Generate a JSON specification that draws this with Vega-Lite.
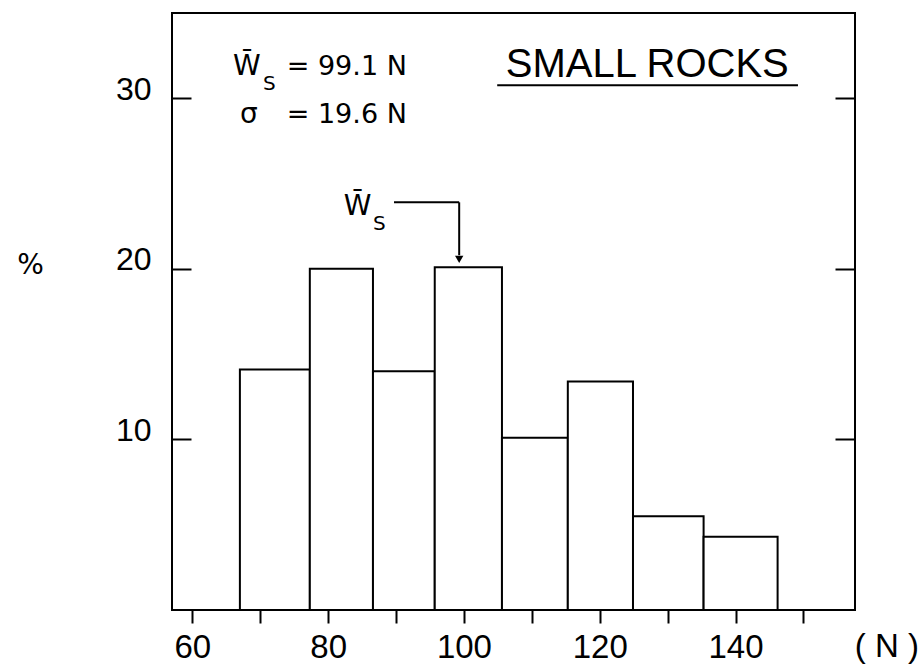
{
  "$schema": "https://vega.github.io/schema/vega-lite/v6.json",
  "width": 683,
  "height": 597,
  "autosize": {"type": "none"},
  "padding": {"left": 172, "top": 13, "right": 64, "bottom": 56},
  "background": "white",
  "config": {
    "view": {"stroke": "#000", "strokeWidth": 2},
    "font": "Liberation Sans",
    "axis": {"domain": false, "grid": false, "tickColor": "#000", "labelColor": "#000", "tickWidth": 2, "labelFont": "Liberation Sans"}
  },
  "datasets": {
    "bars": [
      {"x0": 67.0, "x1": 77.3, "pct": 14.1},
      {"x0": 77.3, "x1": 86.6, "pct": 20.0},
      {"x0": 86.6, "x1": 95.7, "pct": 14.0},
      {"x0": 95.7, "x1": 105.6, "pct": 20.1},
      {"x0": 105.6, "x1": 115.3, "pct": 10.1},
      {"x0": 115.3, "x1": 124.9, "pct": 13.4},
      {"x0": 124.9, "x1": 135.3, "pct": 5.5},
      {"x0": 135.3, "x1": 146.2, "pct": 4.3}
    ],
    "rules": [
      {"x": 89.7, "x2": 99.3, "y": 23.9, "y2": 23.9},
      {"x": 99.3, "x2": 99.3, "y": 23.9, "y2": 20.8},
      {"x": 104.9, "x2": 149.2, "y": 30.77, "y2": 30.77}
    ],
    "arrowhead": [{"x": 99.3, "y": 20.55}],
    "mid": [
      {"x": 73.9, "y": 31.36, "t": "= 99.1 N"},
      {"x": 73.9, "y": 28.55, "t": "= 19.6 N"}
    ],
    "sym": [
      {"x": 66.0, "y": 31.36, "t": "W\u0304"},
      {"x": 67.0, "y": 28.55, "t": "σ"},
      {"x": 82.3, "y": 23.15, "t": "W\u0304"},
      {"x": 34.2, "y": 19.7, "t": "%"}
    ],
    "subs": [
      {"x": 70.4, "y": 30.5, "t": "S"},
      {"x": 86.6, "y": 22.3, "t": "S"}
    ],
    "title": [{"x": 127.0, "y": 31.24, "t": "SMALL ROCKS"}],
    "unit": [{"x": 162.3, "y": -2.75, "t": "( N )"}]
  },
  "resolve": {"axis": {"y": "independent"}},
  "layer": [
    {
      "data": {"name": "bars"},
      "mark": {"type": "rect", "fill": "white", "stroke": "black", "strokeWidth": 2},
      "encoding": {
        "x": {
          "field": "x0", "type": "quantitative", "title": null,
          "scale": {"domain": [57, 157.6], "nice": false, "zero": false},
          "axis": {
            "orient": "bottom",
            "values": [60, 70, 80, 90, 100, 110, 120, 130, 140, 150],
            "tickSize": 13,
            "labelFontSize": 33,
            "labelPadding": 8,
            "labelExpr": "datum.value % 20 == 0 && datum.value <= 140 ? datum.label : ''"
          }
        },
        "x2": {"field": "x1"},
        "y": {
          "field": "pct", "type": "quantitative", "title": null,
          "scale": {"domain": [0, 35], "nice": false},
          "axis": {"orient": "left", "values": [10, 20, 30], "tickSize": -19, "labelPadding": 40, "labelFontSize": 32, "labelOffset": -9}
        },
        "y2": {"datum": 0}
      }
    },
    {
      "data": {"name": "rules"},
      "mark": {"type": "rule", "stroke": "black", "strokeWidth": 2},
      "encoding": {
        "x": {"field": "x", "type": "quantitative"},
        "x2": {"field": "x2"},
        "y": {"field": "y", "type": "quantitative", "title": null, "axis": {"orient": "right", "values": [10, 20, 30], "tickSize": -20, "labels": false}},
        "y2": {"field": "y2"}
      }
    },
    {
      "data": {"name": "arrowhead"},
      "mark": {"type": "point", "shape": "triangle-down", "filled": true, "color": "black", "size": 70, "opacity": 1},
      "encoding": {
        "x": {"field": "x", "type": "quantitative"},
        "y": {"field": "y", "type": "quantitative", "axis": null}
      }
    },
    {
      "data": {"name": "mid"},
      "mark": {"type": "text", "align": "left", "baseline": "alphabetic", "fontSize": 27, "font": "DejaVu Sans", "color": "black"},
      "encoding": {
        "x": {"field": "x", "type": "quantitative"},
        "y": {"field": "y", "type": "quantitative", "axis": null},
        "text": {"field": "t"}
      }
    },
    {
      "data": {"name": "sym"},
      "mark": {"type": "text", "align": "left", "baseline": "alphabetic", "fontSize": 28, "font": "DejaVu Sans", "color": "black"},
      "encoding": {
        "x": {"field": "x", "type": "quantitative"},
        "y": {"field": "y", "type": "quantitative", "axis": null},
        "text": {"field": "t"}
      }
    },
    {
      "data": {"name": "subs"},
      "mark": {"type": "text", "align": "left", "baseline": "alphabetic", "fontSize": 20, "font": "DejaVu Sans", "color": "black"},
      "encoding": {
        "x": {"field": "x", "type": "quantitative"},
        "y": {"field": "y", "type": "quantitative", "axis": null},
        "text": {"field": "t"}
      }
    },
    {
      "data": {"name": "title"},
      "mark": {"type": "text", "align": "center", "baseline": "alphabetic", "fontSize": 40, "color": "black"},
      "encoding": {
        "x": {"field": "x", "type": "quantitative"},
        "y": {"field": "y", "type": "quantitative", "axis": null},
        "text": {"field": "t"}
      }
    },
    {
      "data": {"name": "unit"},
      "mark": {"type": "text", "align": "center", "baseline": "alphabetic", "fontSize": 33, "color": "black"},
      "encoding": {
        "x": {"field": "x", "type": "quantitative"},
        "y": {"field": "y", "type": "quantitative", "axis": null},
        "text": {"field": "t"}
      }
    }
  ]
}
